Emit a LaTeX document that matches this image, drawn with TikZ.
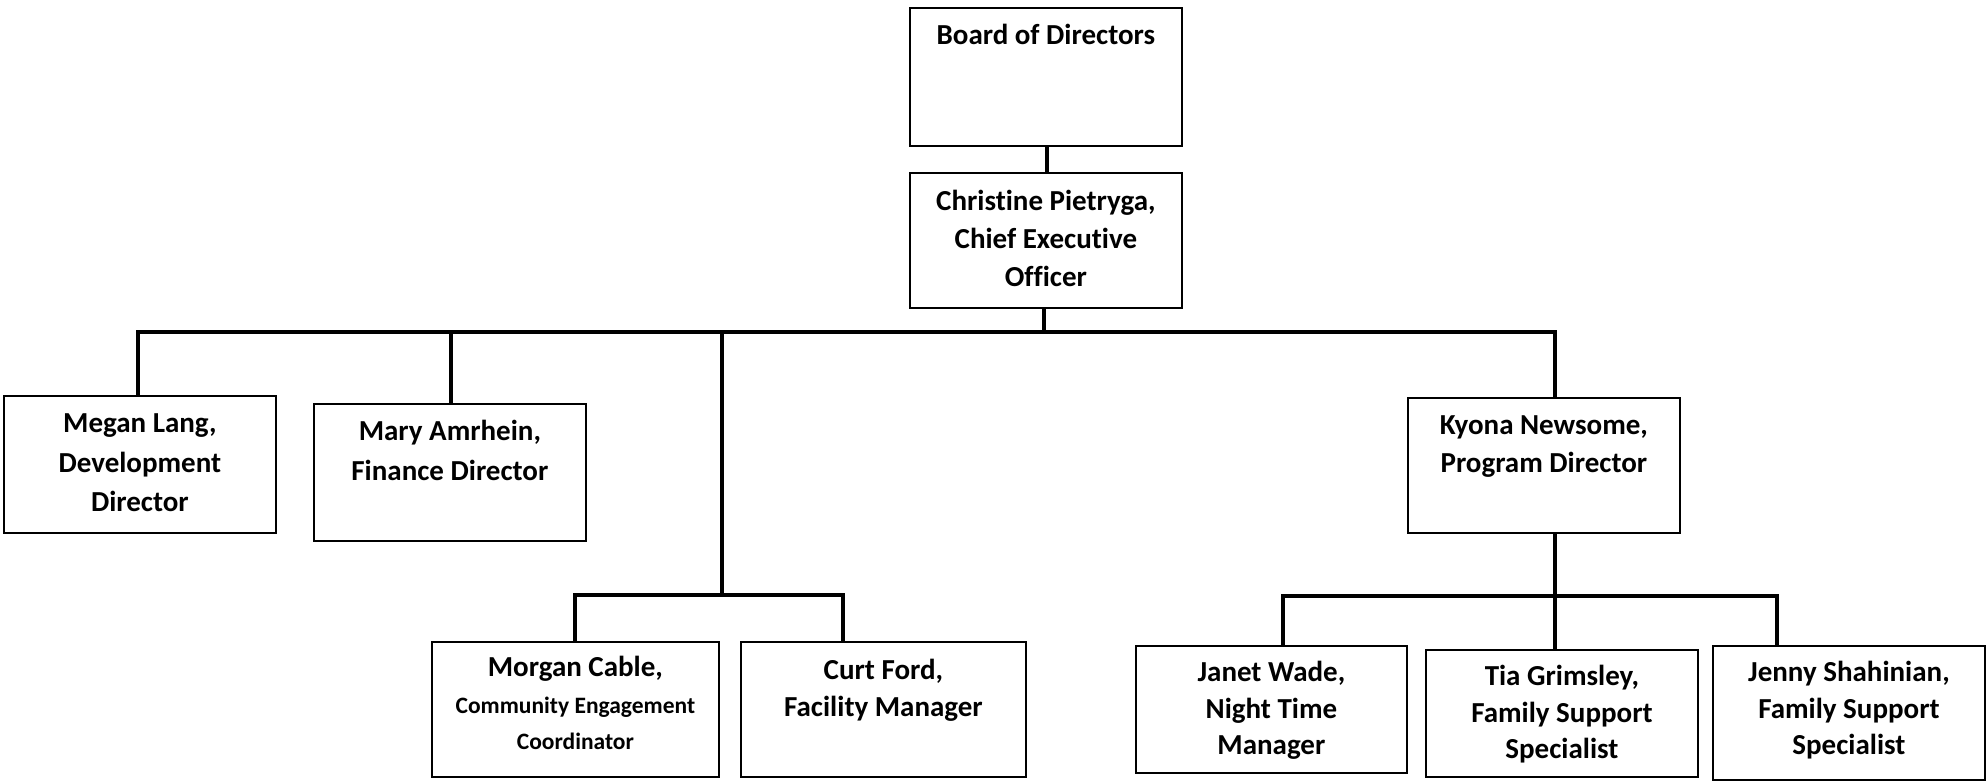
\documentclass[tikz,border=0pt]{standalone}
\usepackage{fontspec}
\setmainfont{Carlito}[Ligatures=NoCommon]
\newcommand{\orgtext}[4]{\parbox[c][#2][t]{#1}{\centering\rule{0pt}{#3}#4\par}}
\begin{document}
\begin{tikzpicture}[x=1pt,y=-1pt,
  box/.style={draw=black, line width=1.8pt, inner sep=0pt, anchor=north west, fill=white},
  big/.style={font=\bfseries\fontsize{29}{38}\selectfont},
  wide/.style={font=\bfseries\fontsize{29}{39.5}\selectfont},
  low/.style={font=\bfseries\fontsize{29}{36.5}\selectfont},
  conn/.style={draw=black, line width=3.6pt}]
\useasboundingbox[fill=white] (0,0) rectangle (1986,780);
\coordinate (bar) at (1044,332);
\coordinate (midtop) at (722,332);
\coordinate (midbot) at (722,595);
\coordinate (kybot) at (1555,596);
% boxes
\node[box,big] (board) at (909,7) {\orgtext{272pt}{138pt}{37pt}{Board of Directors}};
\node[box,big] (ceo) at (909,172) {\orgtext{272pt}{135pt}{38pt}{Christine Pietryga,\\Chief Executive\\Officer}};
\node[box,wide] (megan) at (3,395) {\orgtext{272pt}{137pt}{37pt}{Megan Lang,\\Development\\Director}};
\node[box,wide] (mary) at (313,403) {\orgtext{272pt}{137pt}{37pt}{Mary Amrhein,\\Finance Director}};
\node[box,big] (kyona) at (1407,397) {\orgtext{272pt}{135pt}{37pt}{Kyona Newsome,\\Program Director}};
\node[box,low] (morgan) at (431,641) {\orgtext{287pt}{135pt}{35pt}{Morgan Cable,\\{\fontsize{23.5}{36.5}\selectfont Community Engagement\\Coordinator}}};
\node[box,low] (curt) at (740,641) {\orgtext{285pt}{135pt}{38pt}{Curt Ford,\\Facility Manager}};
\node[box,low] (janet) at (1135,645) {\orgtext{271pt}{127pt}{36pt}{Janet Wade,\\Night Time\\Manager}};
\node[box,low] (tia) at (1425,649) {\orgtext{272pt}{127pt}{36pt}{Tia Grimsley,\\Family Support\\Specialist}};
\node[box,low] (jenny) at (1712,645) {\orgtext{272pt}{134pt}{36pt}{Jenny Shahinian,\\Family Support\\Specialist}};
% connectors
\draw[conn] (board.south -| 1047,0) -- (ceo.north -| 1047,0);
\draw[conn] (ceo.south -| bar) -- (bar);
\draw[conn] (megan.north -| 138,0) -- (138,332) -- (1555,332) -- (kyona.north -| 1555,0);
\draw[conn] (mary.north -| 451,0) -- (451,332);
\draw[conn] (midtop) -- (midbot);
\draw[conn] (morgan.north -| 575,0) -- (575,595) -- (843,595) -- (curt.north -| 843,0);
\draw[conn] (kyona.south -| kybot) -- (kybot);
\draw[conn] (janet.north -| 1283,0) -- (1283,596) -- (1777,596) -- (jenny.north -| 1777,0);
\draw[conn] (tia.north -| kybot) -- (kybot);
\end{tikzpicture}
\end{document}
